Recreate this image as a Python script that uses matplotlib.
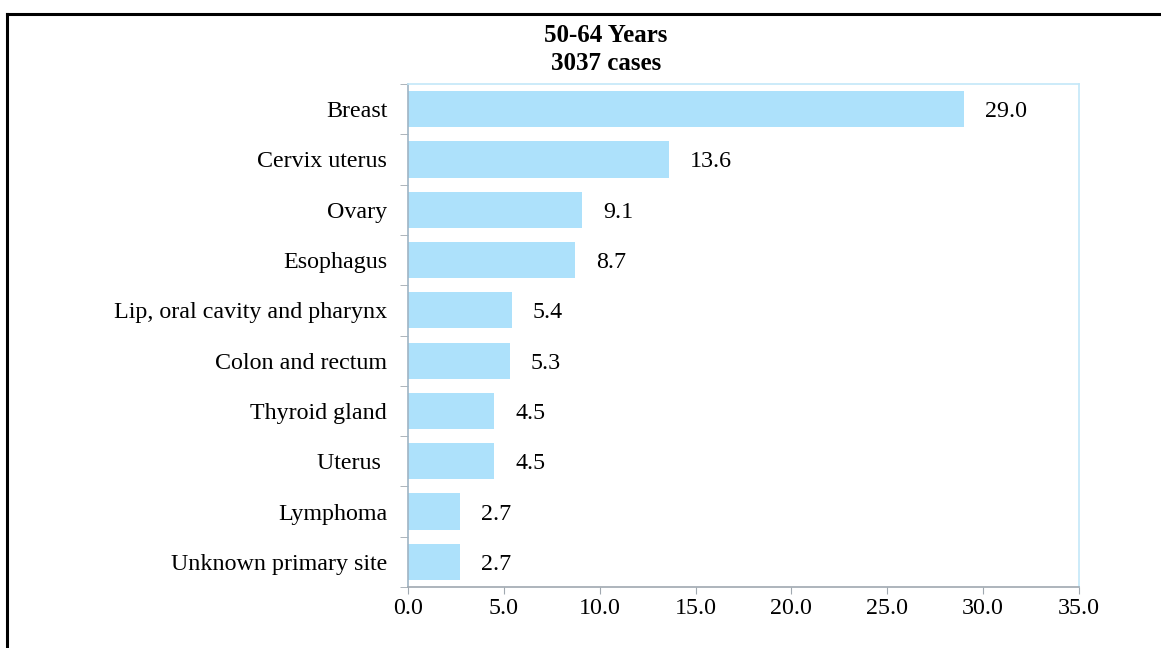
import matplotlib.pyplot as plt
from matplotlib.lines import Line2D

sites = ["Breast", "Cervix uterus", "Ovary", "Esophagus",
         "Lip, oral cavity and pharynx", "Colon and rectum",
         "Thyroid gland", "Uterus ", "Lymphoma", "Unknown primary site"]
percent = [29.0, 13.6, 9.1, 8.7, 5.4, 5.3, 4.5, 4.5, 2.7, 2.7]
xticks = [0, 5, 10, 15, 20, 25, 30, 35]

plt.rcParams['font.family'] = ['Liberation Serif', 'DejaVu Serif']
fs = 17.3

fig = plt.figure(figsize=(11.61, 6.48), dpi=100)
W, H = 1161, 648
ax = fig.add_axes([408 / W, 1 - 587 / H, (1079 - 408) / W, (587 - 84) / H])

pos = list(range(len(sites)))
ax.barh(pos, percent, height=0.72, color='#ade1fb', zorder=2)
for y, v in zip(pos, percent):
    ax.text(v + 1.1, y, f"{v:.1f}", va='center_baseline', ha='left', fontsize=fs)

ax.set_xlim(0, 35)
ax.set_ylim(len(sites) - 0.5, -0.5)
ax.set_xticks(xticks)
ax.set_xticklabels([f"{t:.1f}" for t in xticks], fontsize=fs)
ax.set_yticks(pos)
ax.set_yticklabels(sites, fontsize=fs)
ax.tick_params(axis='y', length=0, pad=15)
ax.tick_params(axis='x', length=5, color='#a0a8b0', pad=3)
# boundary ticks between categories
ax.set_yticks([p - 0.5 for p in pos] + [len(sites) - 0.5], minor=True)
ax.tick_params(axis='y', which='minor', length=6, color='#a0a8b0')

ax.spines['left'].set_color('#9fb4c4')
ax.spines['bottom'].set_color('#a0a8b0')
ax.spines['top'].set_color('#c4e8f8')
ax.spines['right'].set_color('#c4e8f8')
for s in ax.spines.values():
    s.set_linewidth(1.2)

fig.text(606 / W, 1 - 35 / H, "50-64 Years", ha='center', va='center',
         fontsize=18, fontweight='bold')
fig.text(606 / W, 1 - 63 / H, "3037 cases", ha='center', va='center',
         fontsize=18, fontweight='bold')

# outer frame (top and left)
fig.add_artist(Line2D([7 / W, 1], [1 - 14 / H, 1 - 14 / H], color='black', lw=2.2))
fig.add_artist(Line2D([7 / W, 7 / W], [0, 1 - 14 / H], color='black', lw=2.2))

fig.savefig('out.png', dpi=100)
